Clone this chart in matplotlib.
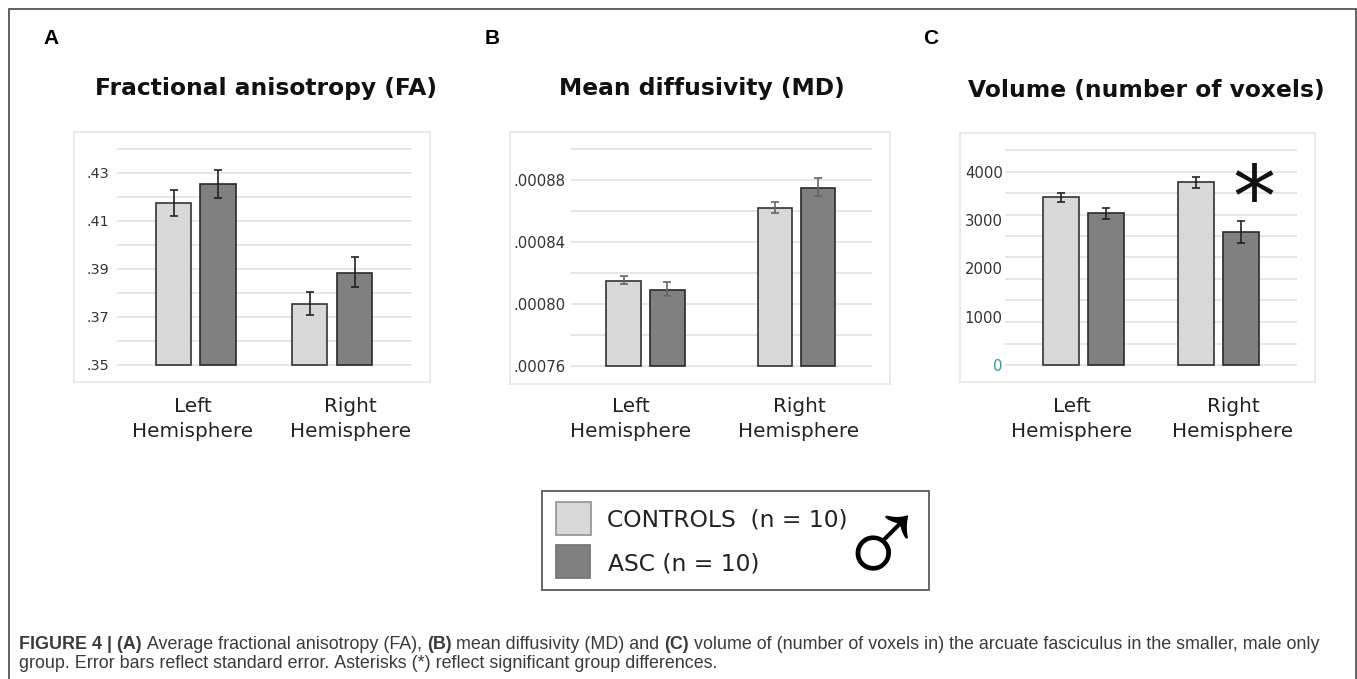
import matplotlib
matplotlib.use("Agg")
import matplotlib.pyplot as plt
from matplotlib.patches import Rectangle

W, H = 1357, 679

groups = ["Left\nHemisphere", "Right\nHemisphere"]

# (controles, ASC) esquerdo / direito
fa_controls = [.4175, .3755]
fa_asc = [.4255, .3885]
fa_controls_err = [(.4122, .4228), (.3710, .3805)]
fa_asc_err = [(.4195, .4312), (.3825, .3950)]
fa_ticks = [.35, .37, .39, .41, .43]
fa_ticklabels = [".35", ".37", ".39", ".41", ".43"]
fa_grid = [.35, .36, .37, .38, .39, .40, .41, .42, .43, .44]

md_controls = [.000815, .000862]
md_asc = [.000809, .000875]
md_controls_err = [(.000813, .000818), (.000859, .000866)]
md_asc_err = [(.000805, .000814), (.000870, .000881)]
md_ticks = [.00076, .00080, .00084, .00088]
md_ticklabels = [".00076", ".00080", ".00084", ".00088"]
md_grid = [.00076, .00078, .00080, .00082, .00084, .00086, .00088, .00090]

vol_controls = [3482, 3793]
vol_asc = [3150, 2756]
vol_controls_err = [(3378, 3565), (3668, 3896)]
vol_asc_err = [(3026, 3254), (2528, 2984)]
vol_ticks = [0, 1000, 2000, 3000, 4000]
vol_ticklabels = ["0", "1000", "2000", "3000", "4000"]
# as linhas de grade do original nao coincidem com os rotulos
vol_grid = [0, 445, 891, 1337, 1782, 2228, 2674, 3119, 3565, 4010, 4456]

CONTROL = "#d8d8d8"
ASC = "#808080"


def box(x0, y0, x1, y1):
    return [x0 / W, 1 - y1 / H, (x1 - x0) / W, (y1 - y0) / H]


def txt(x, y, s, **kw):
    return fig.text(x / W, 1 - y / H, s, **kw)


fig = plt.figure(figsize=(W / 100, H / 100), dpi=100)


def painel(caixa, gridx, y_px, y_val, bar_px, controls, asc, c_err, a_err, ticks, labels, grid,
           label_x, err_color="#222222", tick_size=10.4):
    x0, y0, x1, y1 = caixa
    ax = fig.add_axes(box(*caixa))
    # escala vertical a partir de dois pontos de referencia
    escala = (y_val[1] - y_val[0]) / (y_px[0] - y_px[1])
    ax.set_ylim(y_val[0] - (y1 - y_px[0]) * escala, y_val[0] + (y_px[0] - y0) * escala)
    ax.set_xlim(x0, x1)
    ax.hlines(grid, gridx[0], gridx[1], color="#e4e4e4", lw=1.3, zorder=1)
    base = y_val[0]
    for i in range(2):
        lc, la, w = bar_px[i]
        ax.bar(lc, controls[i] - base, width=w, bottom=base, color=CONTROL, edgecolor="#333333", lw=1.2, zorder=2)
        ax.bar(la, asc[i] - base, width=w, bottom=base, color=ASC, edgecolor="#2a2a2a", lw=1.2, zorder=2)
        for xc, (lo, hi) in ((lc, c_err[i]), (la, a_err[i])):
            ax.vlines(xc, lo, hi, color=err_color, lw=1.2, zorder=3)
            ax.hlines([lo, hi], xc - 4, xc + 4, color=err_color, lw=1.2, zorder=3)
    ax.set_xticks([])
    ax.set_yticks(ticks)
    ax.set_yticklabels(labels, fontsize=tick_size, color="#333333")
    # pad negativo coloca os rotulos dentro da caixa
    ax.tick_params(axis="y", length=0, pad=(x0 - label_x) * 72 / 100)
    for s in ax.spines.values():
        s.set_color("#e6e6e6")
        s.set_linewidth(1.2)
    return ax


painel((74, 132, 429.5, 382), (117, 412), (365, 173), (.35, .43),
       [(173.5, 218, 35.5), (309.7, 354.5, 35.5)],
       fa_controls, fa_asc, fa_controls_err, fa_asc_err, fa_ticks, fa_ticklabels, fa_grid, 109)
painel((510, 132, 889.5, 383.5), (570.5, 872), (366, 180), (.00076, .00088),
       [(623.7, 667.3, 34.5), (775, 818, 34.5)],
       md_controls, md_asc, md_controls_err, md_asc_err, md_ticks, md_ticklabels, md_grid, 565.7,
       err_color="#666666", tick_size=10.7)
painel((960, 132.5, 1314.5, 382), (1005, 1297), (365, 172), (0, 4000),
       [(1061.3, 1106, 36), (1196, 1241, 36)],
       vol_controls, vol_asc, vol_controls_err, vol_asc_err, vol_ticks, vol_ticklabels, vol_grid, 1002.7,
       tick_size=10.7)

# eixo C: o zero aparece em azul esverdeado
fig.axes[2].get_yticklabels()[0].set_color("#2a9d9d")

# titulos
titulo = dict(fontsize=16.8, fontweight="bold", ha="center", va="center", color="#111111")
txt(266, 89, "Fractional anisotropy (FA)", **titulo)
txt(702, 89, "Mean diffusivity (MD)", **titulo)
txt(1146, 90, "Volume (number of voxels)", **titulo)

# letras
for x, s in ((43, "A"), (485, "B"), (923, "C")):
    txt(x, 38, s, fontsize=15, fontweight="bold", family="Liberation Sans", va="center", ha="left")

# rotulos das categorias
for xs in ((193, 350.5), (631, 799), (1072, 1233)):
    for x, g in zip(xs, groups):
        txt(x, 419, g, fontsize=14.4, ha="center", va="center", color="#222222", linespacing=1.4)

# asterisco
txt(1254, 194, "*", fontsize=62, ha="center", va="center_baseline", color="#111111")

# legenda
fig.add_artist(Rectangle((542 / W, 1 - 590 / H), 387.3 / W, 99.3 / H, transform=fig.transFigure,
                         fc="white", ec="#666666", lw=1.4))
fig.add_artist(Rectangle((556 / W, 1 - 535 / H), 35 / W, 33 / H, transform=fig.transFigure,
                         fc=CONTROL, ec="#999999", lw=1.3))
fig.add_artist(Rectangle((556 / W, 1 - 578 / H), 34 / W, 33 / H, transform=fig.transFigure,
                         fc=ASC, ec="#777777", lw=1.3))
txt(607, 520, "CONTROLS  (n = 10)", fontsize=16.8, va="center", color="#222222")
txt(608, 564, "ASC (n = 10)", fontsize=16.8, va="center", color="#222222")
txt(881, 554, "\u2642", fontsize=90, family="Liberation Sans", ha="center", va="center", color="black")

# moldura externa
fig.add_artist(Rectangle((8.5 / W, -0.02), (1355.7 - 8.5) / W, 1.02 - 9 / H, transform=fig.transFigure,
                         fc="none", ec="#555555", lw=1.3))

# legenda da figura, com trechos em negrito
linha1 = [("FIGURE 4 | (A)", True), (" Average fractional anisotropy (FA), ", False), ("(B)", True),
          (" mean diffusivity (MD) and ", False), ("(C)", True),
          (" volume of (number of voxels in) the arcuate fasciculus in the smaller, male only", False)]
linha2 = [("group. Error bars reflect standard error. Asterisks (*) reflect significant group differences.", False)]


def escreve(trechos, x, y):
    r = fig.canvas.get_renderer()
    for s, negrito in trechos:
        t = txt(x, y, s.replace(" ", "\u00a0"), fontsize=12.85, family="Liberation Sans",
                fontweight="bold" if negrito else "normal", va="baseline", color="#3a3a3a")
        x += t.get_window_extent(r).width


escreve(linha1, 19, 649)
escreve(linha2, 19, 667.5)

fig.savefig("out.png", dpi=100)
